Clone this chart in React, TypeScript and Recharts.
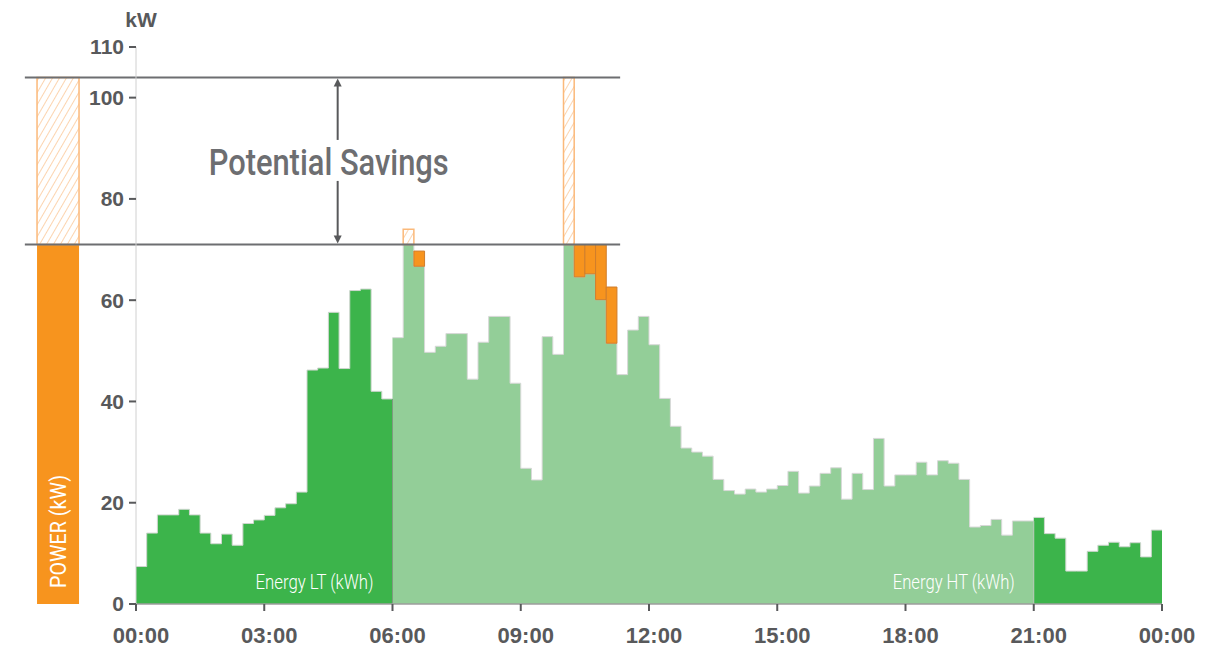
import React from 'react';
import {
  ComposedChart,
  Area,
  XAxis,
  YAxis,
  ReferenceArea,
  ReferenceLine,
} from 'recharts';

// Quarter-hour power values (kW), 96 slots from 00:00 to 24:00
const POWER: number[] = [
  7.4, 14.0, 17.6, 17.6, 18.7, 17.6, 14.0, 11.9, 13.8, 11.6, 15.9, 16.6,
  17.5, 19.0, 19.8, 22.1, 46.2, 46.6, 57.6, 46.5, 61.9, 62.2, 42.0, 40.5,
  52.6, 74.0, 66.7, 49.7, 50.9, 53.4, 53.4, 44.4, 51.7, 56.8, 56.8, 43.6,
  26.8, 24.5, 52.8, 49.3, 104.0, 64.6, 65.2, 60.1, 51.5, 45.3, 54.1, 56.8,
  51.2, 40.6, 35.1, 30.8, 30.0, 29.2, 24.6, 22.4, 21.7, 22.7, 22.1, 22.7,
  23.4, 26.2, 21.9, 23.3, 25.8, 26.9, 20.7, 25.8, 22.6, 32.7, 23.3, 25.5,
  25.5, 28.0, 25.5, 28.3, 27.8, 24.6, 15.2, 15.5, 16.7, 13.6, 16.4, 16.4,
  17.1, 13.9, 13.0, 6.5, 6.5, 10.4, 11.6, 12.2, 11.3, 12.1, 9.3, 14.6,
];

// Shifted load blocks (slot index, added kW stacked on top of the bar)
const SHIFT_SLOTS: number[] = [26, 41, 42, 43, 44];
const SHIFT_ADD: number[] = [3.0, 6.4, 5.8, 10.9, 11.1];

const CAP = 71; // shaved peak level
const PEAK = 104; // original peak
const HT_START = 24; // 06:00
const HT_END = 84; // 21:00
const SLOTS = 96;

const X_TICKS: number[] = [0, 12, 24, 36, 48, 60, 72, 84, 96];
const X_LABELS: string[] = ['00:00', '03:00', '06:00', '09:00', '12:00', '15:00', '18:00', '21:00', '00:00'];
const Y_TICKS: number[] = [0, 20, 40, 60, 80, 100, 110];

// Decoration extents in x data units (slots)
const LEGEND_X: number[] = [-9.26, -5.33];
const GUIDE_X: number[] = [-10.4, 45.3];
const ARROW_X = 18.87;

const GREEN_DARK = '#3cb44b';
const GREEN_LIGHT = '#93ce98';
const ORANGE = '#f7941e';
const GRAY = '#6d6e71';
const TEXT_GRAY = '#58595b';
const FONT = '"Liberation Sans", Arial, sans-serif';

const capped = POWER.map((v) => Math.min(v, CAP));

const data = Array.from({ length: SLOTS + 1 }, (_, i) => {
  const v = i < SLOTS ? capped[i] : capped[SLOTS - 1];
  const prev = i > 0 ? capped[i - 1] : capped[0];
  return {
    x: i,
    lt1: i < HT_START ? v : i === HT_START ? prev : null,
    ht: i >= HT_START && i < HT_END ? v : i === HT_END ? prev : null,
    lt2: i >= HT_END ? (i === SLOTS ? prev : v) : null,
  };
});

const overSlots = POWER.map((v, i) => ({ i, v })).filter((d) => d.v > CAP);

const KwLabel = (props: any) => {
  const vb = props.viewBox || { x: 0, y: 47, width: 136 };
  return (
    <text
      x={vb.x + vb.width + 5}
      y={vb.y - 20}
      textAnchor="middle"
      fill={TEXT_GRAY}
      fontFamily={FONT}
      fontWeight="bold"
      fontSize={21}
    >
      kW
    </text>
  );
};

const ArrowShape = (p: any) => {
  const x = p.x1;
  const top = Math.min(p.y1, p.y2);
  const bot = Math.max(p.y1, p.y2);
  const mid = (top + bot) / 2;
  return (
    <g>
      <line x1={x} y1={top + 8} x2={x} y2={mid - 21} stroke={TEXT_GRAY} strokeWidth={2} />
      <line x1={x} y1={mid + 20} x2={x} y2={bot - 8} stroke={TEXT_GRAY} strokeWidth={2} />
      <polygon points={`${x - 4},${top + 9} ${x + 4},${top + 9} ${x},${top + 1}`} fill={TEXT_GRAY} />
      <polygon points={`${x - 4},${bot - 9} ${x + 4},${bot - 9} ${x},${bot - 1}`} fill={TEXT_GRAY} />
      <text
        x={x - 129}
        y={mid + 14}
        fill={GRAY}
        fontFamily="Roboto, sans-serif"
        fontWeight={500}
        fontSize={37}
        textLength={240}
        lengthAdjust="spacingAndGlyphs"
      >
        Potential Savings
      </text>
    </g>
  );
};

const LegendShape = (p: any) => (
  <g>
    <rect x={p.x} y={p.y} width={p.width} height={p.height} fill={ORANGE} />
    <text
      transform={`translate(${p.x + p.width / 2 + 8}, ${p.y + p.height - 16}) rotate(-90)`}
      fill="#ffffff"
      fontFamily="Roboto, sans-serif"
      fontSize={22}
      textLength={113}
      lengthAdjust="spacingAndGlyphs"
    >
      POWER (kW)
    </text>
  </g>
);

const energyLabel = (text: string, width: number) => (p: any) => (
  <text
    x={p.x + p.width - 19}
    y={p.y + p.height - 15}
    textAnchor="end"
    fill="#ffffff"
    fontFamily="Roboto, sans-serif"
    fontWeight={300}
    fontSize={20}
    textLength={width}
    lengthAdjust="spacingAndGlyphs"
  >
    {text}
  </text>
);

export default function App() {
  return (
    <div style={{ position: 'absolute', left: 0, top: 0, width: 1226, height: 648, background: '#fff' }}>
      <ComposedChart
        width={1226}
        height={648}
        data={data}
        margin={{ top: 47, right: 64, bottom: 0, left: 0 }}
      >
        <defs>
          <pattern id="hatch" width="6" height="6" patternUnits="userSpaceOnUse" patternTransform="rotate(30)">
            <rect width="6" height="6" fill="#ffffff" />
            <line x1="0" y1="0" x2="0" y2="6" stroke="#fbbd84" strokeWidth="1.3" />
          </pattern>
        </defs>
        <XAxis
          dataKey="x"
          type="number"
          domain={[0, SLOTS]}
          ticks={X_TICKS}
          tickFormatter={(v: number) => X_LABELS[X_TICKS.indexOf(v)]}
          height={44}
          tickSize={7}
          tickMargin={16}
          axisLine={{ stroke: '#9d9d9d', strokeWidth: 1.5 }}
          tickLine={{ stroke: TEXT_GRAY, strokeWidth: 2 }}
          tick={{ fill: TEXT_GRAY, fontSize: 22, fontWeight: 'bold', fontFamily: FONT, dx: 5 }}
          interval={0}
        />
        <YAxis
          type="number"
          domain={[0, 110]}
          ticks={Y_TICKS}
          width={136}
          tickSize={7}
          tickMargin={5}
          axisLine={{ stroke: '#d0d0d0' }}
          tickLine={{ stroke: TEXT_GRAY, strokeWidth: 2 }}
          tick={{ fill: TEXT_GRAY, fontSize: 21, fontWeight: 'bold', fontFamily: FONT }}
          interval={0}
          label={<KwLabel />}
        />
        <Area
          dataKey="lt1"
          type="stepAfter"
          fill={GREEN_DARK}
          fillOpacity={1}
          stroke="#cfd6cf"
          strokeWidth={1}
          isAnimationActive={false}
          dot={false}
          activeDot={false}
        />
        <Area
          dataKey="ht"
          type="stepAfter"
          fill={GREEN_LIGHT}
          fillOpacity={1}
          stroke="#d8d8d8"
          strokeWidth={1}
          isAnimationActive={false}
          dot={false}
          activeDot={false}
        />
        <Area
          dataKey="lt2"
          type="stepAfter"
          fill={GREEN_DARK}
          fillOpacity={1}
          stroke="#cfd6cf"
          strokeWidth={1}
          isAnimationActive={false}
          dot={false}
          activeDot={false}
        />
        <ReferenceLine
          segment={[{ x: HT_START, y: 0 }, { x: HT_START, y: Math.min(capped[HT_START - 1], capped[HT_START]) }]}
          stroke="#7f9a80"
          strokeWidth={1}
          ifOverflow="visible"
        />
        <ReferenceLine
          segment={[{ x: HT_END, y: 0 }, { x: HT_END, y: Math.min(capped[HT_END - 1], capped[HT_END]) }]}
          stroke="#b9c9b9"
          strokeWidth={1}
          ifOverflow="visible"
        />
        {SHIFT_SLOTS.map((s, k) => (
          <ReferenceArea
            key={`shift-${s}`}
            x1={s}
            x2={s + 1}
            y1={capped[s]}
            y2={capped[s] + SHIFT_ADD[k]}
            fill={ORANGE}
            fillOpacity={1}
            stroke="#cf7d2c"
            strokeWidth={1}
            ifOverflow="visible"
          />
        ))}
        {overSlots.map((d) => (
          <ReferenceArea
            key={`over-${d.i}`}
            x1={d.i}
            x2={d.i + 1}
            y1={CAP}
            y2={d.v}
            fill="url(#hatch)"
            fillOpacity={1}
            stroke="#fbb97a"
            strokeWidth={1.5}
            ifOverflow="visible"
          />
        ))}
        <ReferenceArea
          x1={LEGEND_X[0]}
          x2={LEGEND_X[1]}
          y1={0}
          y2={CAP}
          ifOverflow="visible"
          shape={LegendShape}
        />
        <ReferenceArea
          x1={LEGEND_X[0]}
          x2={LEGEND_X[1]}
          y1={CAP}
          y2={PEAK}
          fill="url(#hatch)"
          fillOpacity={1}
          stroke="#fbb97a"
          strokeWidth={1.5}
          ifOverflow="visible"
        />
        <ReferenceArea
          x1={0}
          x2={HT_START}
          y1={0}
          y2={5}
          ifOverflow="visible"
          shape={energyLabel('Energy LT (kWh)', 118)}
        />
        <ReferenceArea
          x1={HT_START}
          x2={HT_END}
          y1={0}
          y2={5}
          ifOverflow="visible"
          shape={energyLabel('Energy HT (kWh)', 122)}
        />
        <ReferenceLine
          segment={[{ x: GUIDE_X[0], y: CAP }, { x: GUIDE_X[1], y: CAP }]}
          stroke={GRAY}
          strokeWidth={2}
          ifOverflow="visible"
        />
        <ReferenceLine
          segment={[{ x: GUIDE_X[0], y: PEAK }, { x: GUIDE_X[1], y: PEAK }]}
          stroke={GRAY}
          strokeWidth={2}
          ifOverflow="visible"
        />
        <ReferenceLine
          segment={[{ x: ARROW_X, y: CAP }, { x: ARROW_X, y: PEAK }]}
          ifOverflow="visible"
          shape={ArrowShape}
        />
      </ComposedChart>
    </div>
  );
}
